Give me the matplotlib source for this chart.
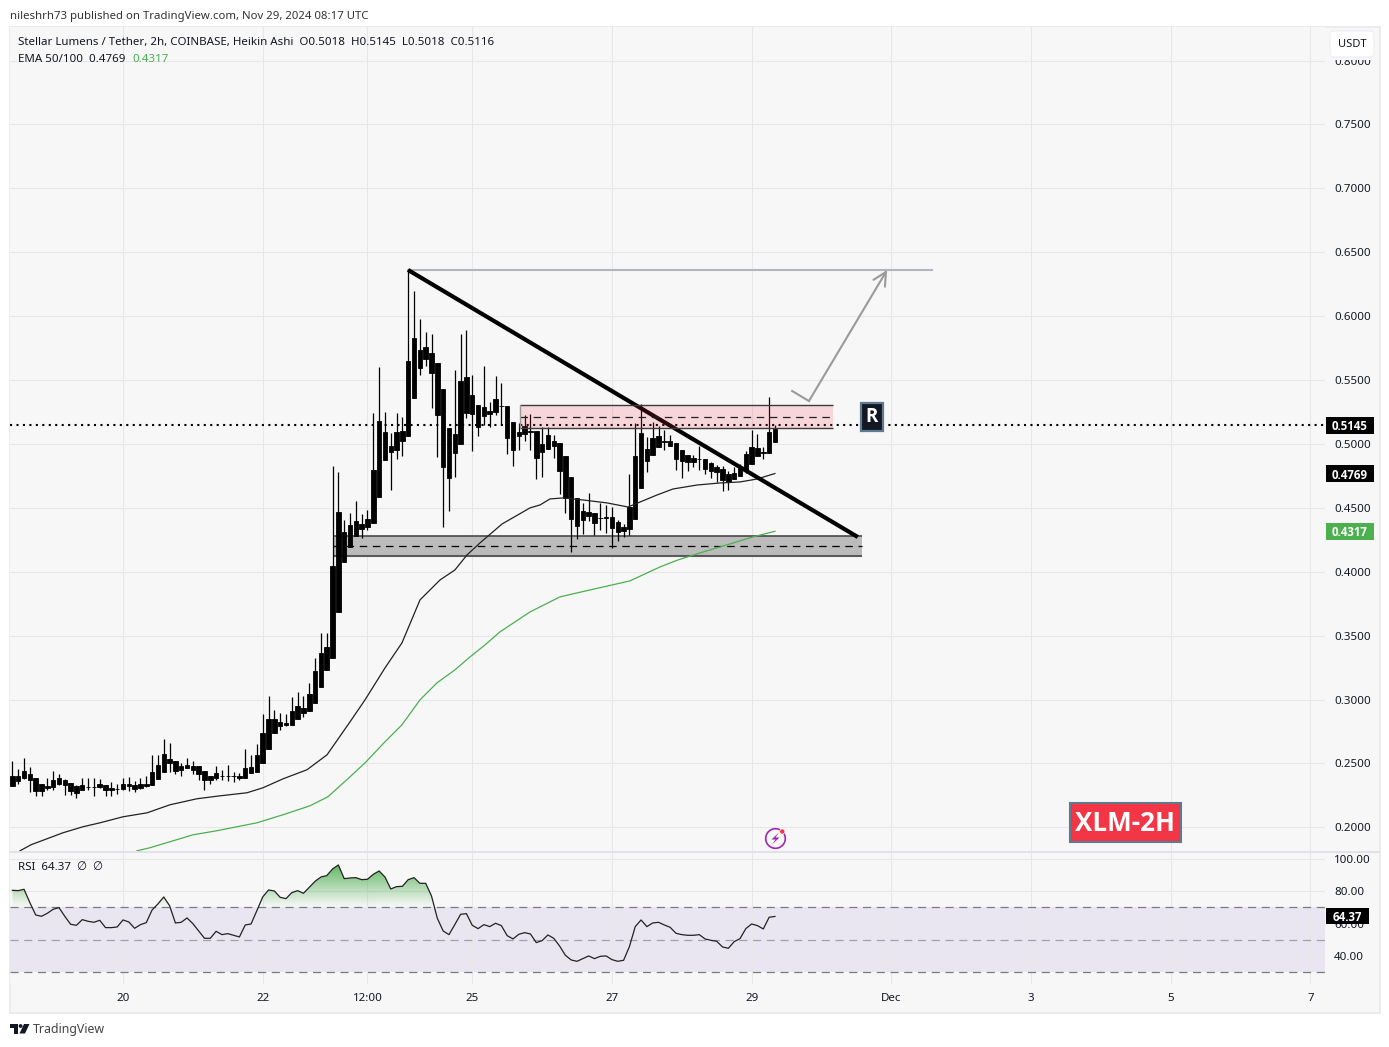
import matplotlib
matplotlib.use('Agg')
import matplotlib.pyplot as plt
import numpy as np
from matplotlib.patches import Rectangle, FancyBboxPatch, Circle, Polygon
from matplotlib.path import Path
from matplotlib.transforms import blended_transform_factory
from matplotlib.colors import LinearSegmentedColormap

plt.rcParams['font.family'] = ['Noto Sans', 'DejaVu Sans']

W, H = 1389, 1047

# heikin ashi candles, 2h bars, day of month of the first bar = 18 10:00
first_day = 18 + 10 / 24
body_top = [
    .2406, .2406, .2445, .2414, .2390, .2343, .2320, .2367, .2390, .2367, .2351, .2320,
    .2328, .2317, .2317, .2336, .2328, .2312, .2304, .2343, .2336, .2328, .2336, .2343,
    .2430, .2492, .2578, .2539, .2523, .2484, .2492, .2484, .2477, .2445, .2406, .2422,
    .2406, .2406, .2406, .2406, .2461, .2469, .2570, .2735, .2852, .2852, .2821, .2813,
    .2907, .2946, .2931, .3040, .3226, .3367, .3414, .4048, .4471, .4315, .4369, .4401,
    .4374, .4413, .4799, .5180, .5094, .4984, .5094, .5102, .5650, .5830, .5736, .5760,
    .5713, .5634, .5431, .5125, .5078, .5493, .5525, .5384, .5305, .5290, .5258, .5352,
    .5298, .5298, .5172, .5094, .5141, .5102, .5102, .5000, .5070, .5023, .5008, .4906,
    .4739, .4577, .4475, .4465, .4460, .4423, .4426, .4426, .4387, .4350, .4504, .4906,
    .5086, .4961, .5044, .5063, .5023, .5023, .5005, .4950, .4914, .4890, .4883, .4883,
    .4854, .4820, .4804, .4765, .4773, .4812, .4922, .4977, .4969, .4937, .5094, .5116]
body_bottom = [
    .2323, .2362, .2383, .2370, .2283, .2283, .2307, .2315, .2336, .2328, .2281, .2273,
    .2296, .2315, .2315, .2315, .2291, .2291, .2302, .2299, .2323, .2304, .2312, .2320,
    .2330, .2377, .2432, .2503, .2440, .2453, .2463, .2453, .2414, .2370, .2367, .2385,
    .2403, .2403, .2403, .2383, .2390, .2422, .2437, .2500, .2617, .2735, .2790, .2805,
    .2805, .2852, .2892, .2907, .2970, .3096, .3229, .3323, .3683, .4075, .4192, .4278,
    .4332, .4350, .4381, .4582, .4877, .4935, .4956, .5026, .5063, .5358, .5592, .5666,
    .5553, .5224, .4817, .4731, .4927, .4997, .5240, .5235, .5133, .5219, .5235, .5251,
    .5295, .5044, .4950, .5063, .5078, .5097, .4888, .4940, .4963, .4984, .4791, .4575,
    .4410, .4361, .4408, .4439, .4384, .4418, .4423, .4345, .4314, .4321, .4337, .4415,
    .4658, .4867, .4914, .4977, .5018, .4984, .4883, .4867, .4859, .4859, .4880, .4804,
    .4789, .4781, .4718, .4702, .4726, .4749, .4789, .4843, .4906, .4932, .4930, .5018]
wick_high = [
    .2523, .2458, .2544, .2474, .2390, .2343, .2390, .2445, .2414, .2380, .2351, .2333,
    .2390, .2385, .2385, .2375, .2328, .2359, .2343, .2390, .2398, .2362, .2390, .2406,
    .2563, .2563, .2693, .2657, .2523, .2505, .2544, .2516, .2477, .2445, .2406, .2484,
    .2453, .2492, .2437, .2422, .2610, .2563, .2649, .2884, .3025, .2915, .2899, .2884,
    .3017, .3056, .3025, .3126, .3325, .3524, .3524, .4831, .4777, .4409, .4463, .4557,
    .4452, .4483, .5243, .5603, .5251, .5086, .5243, .5211, .6360, .6198, .5979, .5877,
    .5861, .5634, .5431, .5125, .5579, .5861, .5893, .5540, .5305, .5611, .5329, .5532,
    .5478, .5298, .5172, .5164, .5227, .5235, .5102, .5136, .5136, .5070, .5008, .4906,
    .4739, .4577, .4535, .4614, .4460, .4535, .4520, .4504, .4405, .4371, .4765, .5162,
    .5311, .5055, .5170, .5141, .5110, .5070, .5005, .4950, .4914, .4914, .4984, .4883,
    .4862, .4836, .4828, .4789, .4820, .4843, .4945, .5110, .5078, .4979, .5368, .5145]
wick_low = [
    .2323, .2338, .2375, .2276, .2249, .2244, .2291, .2291, .2328, .2257, .2257, .2229,
    .2291, .2291, .2244, .2307, .2249, .2244, .2260, .2296, .2283, .2276, .2302, .2315,
    .2328, .2375, .2432, .2437, .2416, .2401, .2461, .2416, .2370, .2296, .2343, .2370,
    .2370, .2362, .2359, .2370, .2390, .2422, .2437, .2500, .2617, .2735, .2766, .2790,
    .2805, .2845, .2860, .2907, .2970, .3096, .3229, .3323, .3683, .4075, .4192, .4278,
    .4264, .4324, .4381, .4582, .4877, .4640, .4885, .4903, .5063, .5358, .5538, .5608,
    .5279, .4898, .4348, .4473, .4742, .4997, .5201, .4945, .5060, .5146, .5133, .5227,
    .5146, .4919, .4825, .4953, .5023, .4953, .4723, .4739, .4963, .4890, .4606, .4462,
    .4157, .4259, .4293, .4400, .4290, .4329, .4306, .4188, .4243, .4274, .4290, .4415,
    .4658, .4781, .4914, .4977, .4953, .4984, .4796, .4734, .4789, .4820, .4796, .4765,
    .4734, .4702, .4632, .4640, .4726, .4749, .4770, .4843, .4906, .4885, .4930, .5018]

ema50_days = [18.525, 18.683, 18.912, 19.141, 19.427, 19.671, 20.0, 20.344, 20.673, 21.059, 21.389,
              21.775, 22.004, 22.291, 22.634, 22.921, 23.25, 23.465, 23.751, 23.994, 24.252, 24.538,
              24.753, 24.925, 25.111, 25.426, 25.827, 25.97, 26.113, 26.299, 26.586, 26.929, 27.23,
              27.402, 27.645, 27.874, 28.218, 28.547, 28.833, 29.077, 29.333]
ema50 = [.1817, .1864, .1911, .1958, .2005, .2036, .2083, .2114, .2177, .2224, .2247,
         .2271, .2310, .2380, .2451, .2568, .2826, .2998, .3248, .3444, .3780, .3936,
         .4015, .4132, .4226, .4374, .4500, .4523, .4570, .4578, .4562, .4539, .4507,
         .4546, .4601, .4648, .4679, .4695, .4703, .4726, .4769]
ema100_days = [20.2, 20.387, 20.673, 21.002, 21.346, 21.918, 22.291, 22.677, 22.935, 23.25, 23.465,
               23.751, 23.994, 24.252, 24.495, 24.753, 24.968, 25.183, 25.397, 25.827, 26.256, 26.686,
               27.259, 27.688, 27.946, 28.304, 28.69, 29.019, 29.333]
ema100 = [.1817, .1841, .1888, .1942, .1974, .2036, .2099, .2169, .2240, .2396, .2505,
          .2670, .2803, .2998, .3131, .3233, .3334, .3428, .3530, .3686, .3804, .3858,
          .3929, .4038, .4093, .4155, .4218, .4273, .4317]

rsi = [
    80.46, 80.26, 81.08, 72.87, 65.28, 64.46, 66.31, 68.77, 69.79, 64.46, 59.54, 58.92,
    62.41, 61.39, 60.77, 62.00, 57.49, 57.49, 57.90, 62.21, 60.98, 57.08, 59.33, 60.57,
    68.36, 72.05, 76.36, 71.03, 60.36, 60.77, 63.44, 59.95, 55.44, 50.93, 50.93, 55.23,
    53.18, 53.80, 52.77, 51.75, 59.13, 59.74, 67.95, 76.36, 80.67, 80.05, 76.15, 75.33,
    79.02, 80.26, 78.61, 82.31, 86.00, 88.66, 89.48, 93.59, 96.05, 87.64, 88.05, 88.25,
    87.02, 87.23, 90.30, 92.36, 88.66, 81.28, 82.72, 82.92, 87.02, 88.25, 84.77, 84.77,
    76.97, 63.23, 55.44, 53.18, 59.33, 65.69, 66.10, 58.92, 56.87, 59.33, 58.10, 60.16,
    58.72, 52.57, 50.52, 53.39, 54.41, 53.59, 48.26, 49.49, 52.98, 50.93, 46.21, 40.47,
    37.59, 36.77, 38.41, 40.06, 38.41, 39.85, 40.06, 37.80, 36.77, 37.39, 45.80, 58.10,
    62.21, 58.10, 60.36, 60.77, 59.13, 57.69, 54.00, 53.18, 52.77, 52.77, 53.18, 50.52,
    49.69, 49.08, 45.59, 44.77, 48.87, 50.72, 56.87, 59.74, 58.72, 56.67, 63.85, 64.37]

# drawings on the chart
trend_days = [24.08, 30.52]
trend_prices = [.6362, .4272]
target_days = [24.08, 31.58]
target_price = .6362
path_days = [29.58, 29.82, 30.94]
path_prices = [.5415, .5336, .6362]
resist_days = [25.68, 30.16]
resist_prices = [.5123, .5213, .5303]
support_days = [23.0, 30.58]
support_prices = [.4124, .4200, .4278]

price_ticks = [.20, .25, .30, .35, .40, .45, .50, .55, .60, .65, .70, .75, .80]
rsi_ticks = [40, 60, 80, 100]
day_ticks = [20, 22, 23.5, 25, 27, 29, 31, 33, 35, 37]
day_labels = ['20', '22', '12:00', '25', '27', '29', 'Dec', '3', '5', '7']

INK = '#131722'
GRID = '#e7e7ea'
PANEL = '#f7f7f7'
GREEN = '#4caf50'
SLATE = '#5d7a90'
BOLD = ['Open Sans', 'DejaVu Sans']
DAY_LIM = (18.3822, 37.2083)


def pixel_axes(zorder):
    a = fig.add_axes([0, 0, 1, 1], zorder=zorder)
    a.set_xlim(0, W)
    a.set_ylim(H, 0)
    a.axis('off')
    a.patch.set_alpha(0)
    return a


def pane(left, top, right, bottom):
    a = fig.add_axes([left / W, 1 - bottom / H, (right - left) / W, (bottom - top) / H], zorder=1)
    a.set_facecolor(PANEL)
    for s in a.spines.values():
        s.set_visible(False)
    a.set_xlim(*DAY_LIM)
    a.set_axisbelow(True)
    a.grid(True, color=GRID, lw=0.8)
    a.yaxis.tick_right()
    a.tick_params(length=0, labelsize=8.3, labelcolor=INK, pad=6.4)
    a.set_xticks(day_ticks)
    return a


def value_tag(a, value, label, color, height, width=0.0365):
    trans = blended_transform_factory(a.transAxes, a.transData)
    a.add_patch(Rectangle((1.0008, value - height / 2), width, height, transform=trans,
                          facecolor=color, edgecolor='none', clip_on=False, zorder=8))
    a.text(1.0008 + width / 2, value, label, transform=trans, color='white', fontsize=8.3, fontweight='bold',
           family=BOLD, ha='center', va='center_baseline', clip_on=False, zorder=9)


fig = plt.figure(figsize=(W / 100, H / 100), dpi=100, facecolor='white')

back = pixel_axes(0)
back.add_patch(Rectangle((9.5, 27), 1370, 985.5, facecolor=PANEL, edgecolor='#ebebee', lw=1.4))

ax = pane(10, 27, 1325, 851)
ax.set_ylim(.18153, .82629)
ax.set_yticks(price_ticks)
ax.set_yticklabels(['%.4f' % p for p in price_ticks])
ax.tick_params(axis='x', labelbottom=False)

days = first_day + np.arange(len(body_top)) / 12
top = np.array(body_top)
bottom = np.array(body_bottom)

# support and resistance boxes
ax.add_patch(Rectangle((support_days[0], support_prices[0]), support_days[1] - support_days[0],
                       support_prices[2] - support_prices[0], facecolor='#bbbbbb', edgecolor='none', zorder=2))
ax.hlines(support_prices[2], *support_days, color='#4a4a4a', lw=1.2, zorder=2.1)
ax.hlines(support_prices[0], *support_days, color='#5a5a5a', lw=1.5, zorder=2.1)
ax.hlines(support_prices[1], *support_days, color='black', lw=0.9, linestyles=(0, (6, 4.5)), zorder=2.1)

ax.axhline(wick_high[-1], color='black', lw=1.5, linestyle=(0, (1, 2.1)), zorder=2.5)

ax.vlines(days, wick_low, wick_high, color='black', lw=0.9, zorder=3)
ax.bar(days, top - bottom, bottom=bottom, width=0.064, color='black', edgecolor='black', lw=0.6, zorder=3)

ax.plot(ema50_days, ema50, color='#222222', lw=0.9, zorder=4)
ax.plot(ema100_days, ema100, color=GREEN, lw=0.9, zorder=4)

ax.plot(target_days, [target_price, target_price], color='#b2b5be', lw=1.5, zorder=4)
ax.plot(trend_days, trend_prices, color='black', lw=3, solid_capstyle='butt', zorder=5)
ax.plot(path_days[:2], path_prices[:2], color='#9a9a9a', lw=1.5, zorder=5)
ax.annotate('', xy=(path_days[2], path_prices[2]), xytext=(path_days[1], path_prices[1]),
            arrowprops=dict(arrowstyle='->,head_length=0.95,head_width=0.48', color='#9a9a9a',
                            lw=1.5, shrinkA=0, shrinkB=0), zorder=5)

ax.add_patch(Rectangle((resist_days[0], resist_prices[0]), resist_days[1] - resist_days[0],
                       resist_prices[2] - resist_prices[0], facecolor='#f23645', alpha=0.17,
                       edgecolor='none', zorder=6))
ax.hlines(resist_prices[2], *resist_days, color='#3c3c3c', lw=1.0, zorder=6)
ax.hlines(resist_prices[0], *resist_days, color='#3c3c3c', lw=1.0, zorder=6)
ax.hlines(resist_prices[1], *resist_days, color='#222222', lw=0.9, linestyles=(0, (6, 4.5)), zorder=6)
ax.vlines(resist_days[0], resist_prices[0], resist_prices[2], color='#9a9a9a', lw=1.0, zorder=6)

value_tag(ax, wick_high[-1], '%.4f' % wick_high[-1], 'black', 0.0133)
value_tag(ax, ema50[-1], '%.4f' % ema50[-1], 'black', 0.0133)
value_tag(ax, ema100[-1], '%.4f' % ema100[-1], GREEN, 0.0133)

# rsi pane
rx = pane(10, 852, 1325, 984)
rx.set_ylim(22.8, 104.03)
rx.set_yticks(rsi_ticks)
rx.set_yticklabels(['%.2f' % v for v in rsi_ticks])
rx.set_xticklabels(day_labels)
rx.tick_params(axis='x', pad=6.2)
rx.axhspan(30, 70, facecolor='#7e57c2', alpha=0.1, edgecolor='none', zorder=0.5)
for level in [70, 50, 30]:
    rx.axhline(level, color='#787b86', lw=0.9, linestyle=(0, (6.5, 4.5)),
               alpha=1 if level != 50 else 0.65, zorder=1.5)

rsi_arr = np.array(rsi)
above = rx.fill_between(days, rsi_arr, 70, where=rsi_arr >= 70, interpolate=True, color='none')
clip = Path.make_compound_path(*above.get_paths())
fade = LinearSegmentedColormap.from_list('fade', [(0.3, 0.69, 0.31, 0.0), (0.3, 0.69, 0.31, 0.95)])
img = rx.imshow(np.linspace(0, 1, 64)[:, None], origin='lower', cmap=fade, aspect='auto', zorder=1.2,
                extent=(days[0], days[-1], 70, 98), interpolation='bilinear')
img.set_clip_path(clip, rx.transData)
rx.set_xlim(*DAY_LIM)
rx.set_ylim(22.8, 104.03)
rx.plot(days, rsi, color='#222222', lw=0.9, zorder=3)
value_tag(rx, rsi[-1], '%.2f' % rsi[-1], 'black', 9.8, width=0.0327)

# texts and logos on top of everything
top_ax = pixel_axes(5)
top_ax.plot([10, 1379], [851.5, 851.5], color='#dcdae4', lw=1.1)
top_ax.text(10, 16, 'nileshrh73 published on TradingView.com, Nov 29, 2024 08:17 UTC',
            fontsize=8.2, color='#333333', va='center')
top_ax.text(18, 42.5, 'Stellar Lumens / Tether, 2h, COINBASE, Heikin Ashi  O0.5018  H0.5145  L0.5018  C0.5116',
            fontsize=8.3, color=INK, va='center')
top_ax.text(18, 59.5, 'EMA 50/100  0.4769', fontsize=8.3, color=INK, va='center')
top_ax.text(132, 59.5, '0.4317', fontsize=8.3, color=GREEN, va='center')
top_ax.text(18, 867.5, 'RSI  64.37  ∅  ∅', fontsize=8.3, color=INK, va='center')

# the USDT button covers the top of the 0.8000 label
top_ax.add_patch(Rectangle((1329, 50), 46, 10, facecolor=PANEL, edgecolor='none'))
top_ax.add_patch(FancyBboxPatch((1332, 33), 40, 22, boxstyle='round,pad=2,rounding_size=4',
                                facecolor='white', edgecolor='#eeeef1', lw=0.8))
top_ax.text(1352, 44.5, 'USDT', fontsize=8, color=INK, ha='center', va='center')

# R badge and pair badge
top_ax.add_patch(Rectangle((861, 403), 22, 28, facecolor='#131722', edgecolor=SLATE, lw=1.6))
top_ax.text(871.5, 417, 'R', fontsize=13.5, fontweight='bold', family=BOLD, color='white', ha='center', va='center')
top_ax.add_patch(Rectangle((1069.5, 802.5), 111, 39.5, facecolor='#f23645', edgecolor=SLATE, lw=1.5))
top_ax.text(1125, 823.5, 'XLM-2H', fontsize=18.7, fontweight='bold', family=BOLD, color='white', ha='center', va='center')

# lightning icon
top_ax.add_patch(Circle((775.5, 838.5), 9.8, facecolor='none', edgecolor='#9c27b0', lw=1.2))
top_ax.add_patch(Polygon([(779, 832.5), (771.5, 839.5), (775.5, 839.5), (772, 844.5),
                          (779.5, 837.5), (775.5, 837.5)], facecolor='#9c27b0', edgecolor='none'))
top_ax.add_patch(Circle((782.3, 831.5), 2.6, facecolor='#f23645', edgecolor='white', lw=0.5))

# tradingview mark
top_ax.add_patch(Polygon([(10, 1024), (18, 1024), (18, 1033.5), (14, 1033.5), (14, 1028), (10, 1028)],
                         facecolor='#131722', edgecolor='none'))
top_ax.add_patch(Circle((20.6, 1026), 1.9, facecolor='#131722', edgecolor='none'))
top_ax.add_patch(Polygon([(24, 1024), (29.5, 1024), (25, 1033.5), (19.5, 1033.5)],
                         facecolor='#131722', edgecolor='none'))
top_ax.text(33, 1030, 'TradingView', fontsize=8.9, color='#444444', va='center')

fig.savefig('out.png', dpi=100, facecolor='white')
